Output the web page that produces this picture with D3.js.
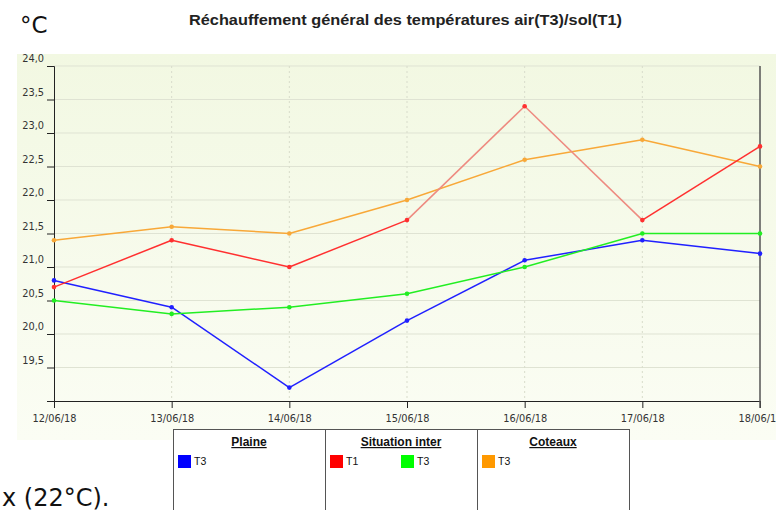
<!DOCTYPE html>
<html>
<head>
<meta charset="utf-8">
<title>Réchauffement général</title>
<script src="https://d3js.org/d3.v7.min.js"></script>
<style>
body { margin: 0; background: #fff; overflow: hidden; }
svg { display: block; }
</style>
</head>
<body>
<svg></svg>
<script>
// data
var dates = ["12/06/18", "13/06/18", "14/06/18", "15/06/18", "16/06/18", "17/06/18", "18/06/18"];
var plaineT3 = [20.8, 20.4, 19.2, 20.2, 21.1, 21.4, 21.2];
var interT1 = [20.7, 21.4, 21.0, 21.7, 23.4, 21.7, 22.8];
var interT3 = [20.5, 20.3, 20.4, 20.6, 21.0, 21.5, 21.5];
var coteauxT3 = [21.4, 21.6, 21.5, 22.0, 22.6, 22.9, 22.5];
var yTicks = [19.5, 20.0, 20.5, 21.0, 21.5, 22.0, 22.5, 23.0, 23.5, 24.0];

var width = 776, height = 510;
var svg = d3.select("svg").attr("width", width).attr("height", height);

var defs = svg.append("defs");
var grad = defs.append("linearGradient").attr("id", "bg").attr("x1", 0).attr("y1", 0).attr("x2", 0).attr("y2", 1);
grad.append("stop").attr("offset", "0%").attr("stop-color", "#f2f8e2");
grad.append("stop").attr("offset", "100%").attr("stop-color", "#fbfdf4");

// plot background
svg.append("rect").attr("x", 17).attr("y", 54).attr("width", width - 17).attr("height", 386).attr("fill", "url(#bg)");

var x = d3.scalePoint().domain(dates).range([54, 760]);
var y = d3.scaleLinear().domain([19, 24]).range([401, 66]);

// grid
svg.append("g").selectAll("line").data(yTicks).join("line")
    .attr("x1", 54).attr("x2", 760)
    .attr("y1", function (d) { return y(d); }).attr("y2", function (d) { return y(d); })
    .attr("stroke", "#dfe3d3").attr("stroke-width", 1);
svg.append("g").selectAll("line").data(dates.slice(1, -1)).join("line")
    .attr("x1", function (d) { return x(d); }).attr("x2", function (d) { return x(d); })
    .attr("y1", 66).attr("y2", 401)
    .attr("stroke", "#d8dccb").attr("stroke-dasharray", "2,3");

// axes
var yAxis = svg.append("g").attr("transform", "translate(54,0)")
    .call(d3.axisLeft(y).tickValues(yTicks).tickSize(7).tickPadding(3)
        .tickFormat(function (d) { return d3.format(".1f")(d).replace(".", ","); }));
var xAxis = svg.append("g").attr("transform", "translate(0,401)")
    .call(d3.axisBottom(x).tickSize(7).tickPadding(7));
[yAxis, xAxis].forEach(function (a) {
    a.select(".domain").attr("stroke", "#222");
    a.selectAll(".tick line").attr("stroke", "#222");
    a.selectAll("text").attr("fill", "#333").style("font-family", "'DejaVu Sans', sans-serif").style("font-size", "9.8px");
});
yAxis.selectAll(".tick text").attr("dy", "-0.45em");
svg.append("line").attr("x1", 760).attr("x2", 760).attr("y1", 66).attr("y2", 408).attr("stroke", "#555").attr("stroke-width", 1.5);

// series
var series = [
    { vals: plaineT3, color: "#2020ff" },
    { vals: interT3, color: "#22ee22" },
    { vals: coteauxT3, color: "#f8a838" },
    { vals: interT1, color: "#ff3030", faded: [3, 4] }
];
series.forEach(function (s) {
    var segs = d3.pairs(s.vals.map(function (v, i) { return [x(dates[i]), y(v)]; }));
    svg.append("g").selectAll("line").data(segs).join("line")
        .attr("x1", function (d) { return d[0][0]; }).attr("y1", function (d) { return d[0][1]; })
        .attr("x2", function (d) { return d[1][0]; }).attr("y2", function (d) { return d[1][1]; })
        .attr("stroke", function (d, i) { return s.faded && s.faded.indexOf(i) >= 0 ? "#ee8a80" : s.color; })
        .attr("stroke-width", 1.5);
    svg.append("g").selectAll("circle").data(s.vals).join("circle")
        .attr("cx", function (d, i) { return x(dates[i]); })
        .attr("cy", function (d) { return y(d); })
        .attr("r", 2.3).attr("fill", s.color);
});

// titles
svg.append("text").attr("x", 20).attr("y", 33).text("°C")
    .style("font-family", "'DejaVu Sans', sans-serif").style("font-size", "23px").attr("fill", "#111");
svg.append("text").attr("x", 189).attr("y", 25)
    .attr("textLength", 433).attr("lengthAdjust", "spacingAndGlyphs")
    .text("Réchauffement général des températures air(T3)/sol(T1)")
    .style("font-family", "'Liberation Sans', Arial, sans-serif").style("font-size", "15px").style("font-weight", "bold").attr("fill", "#222");

// legend table
var groups = [
    { name: "Plaine", items: [{ label: "T3", color: "#0000ff" }] },
    { name: "Situation inter", items: [{ label: "T1", color: "#ff0000" }, { label: "T3", color: "#00ff00" }] },
    { name: "Coteaux", items: [{ label: "T3", color: "#ff9900" }] }
];
var colX = [173, 325, 477, 629];
svg.append("rect").attr("x", 173).attr("y", 430).attr("width", 456).attr("height", 100).attr("fill", "#fff");
svg.append("line").attr("x1", 173).attr("x2", 629).attr("y1", 429.5).attr("y2", 429.5).attr("stroke", "#555");
colX.forEach(function (cx) {
    svg.append("line").attr("x1", cx + 0.5).attr("x2", cx + 0.5).attr("y1", 429).attr("y2", 510).attr("stroke", "#555");
});
groups.forEach(function (g, gi) {
    var left = colX[gi];
    svg.append("text").attr("x", left + 76).attr("y", 446).attr("text-anchor", "middle")
        .text(g.name).style("font-family", "'Liberation Sans', Arial, sans-serif")
        .style("font-size", "12px").style("font-weight", "bold").style("text-decoration", "underline").attr("fill", "#111");
    g.items.forEach(function (it, ii) {
        var ix = left + 5 + ii * 71;
        svg.append("rect").attr("x", ix).attr("y", 455).attr("width", 13).attr("height", 13).attr("fill", it.color);
        svg.append("text").attr("x", ix + 16).attr("y", 465).text(it.label)
            .style("font-family", "'Liberation Sans', Arial, sans-serif").style("font-size", "10.5px").attr("fill", "#111");
    });
});

// cut-off caption line below
svg.append("text").attr("x", 2).attr("y", 506).text("x (22°C).")
    .style("font-family", "'DejaVu Sans', sans-serif").style("font-size", "24px").attr("fill", "#111");
</script>
</body>
</html>
